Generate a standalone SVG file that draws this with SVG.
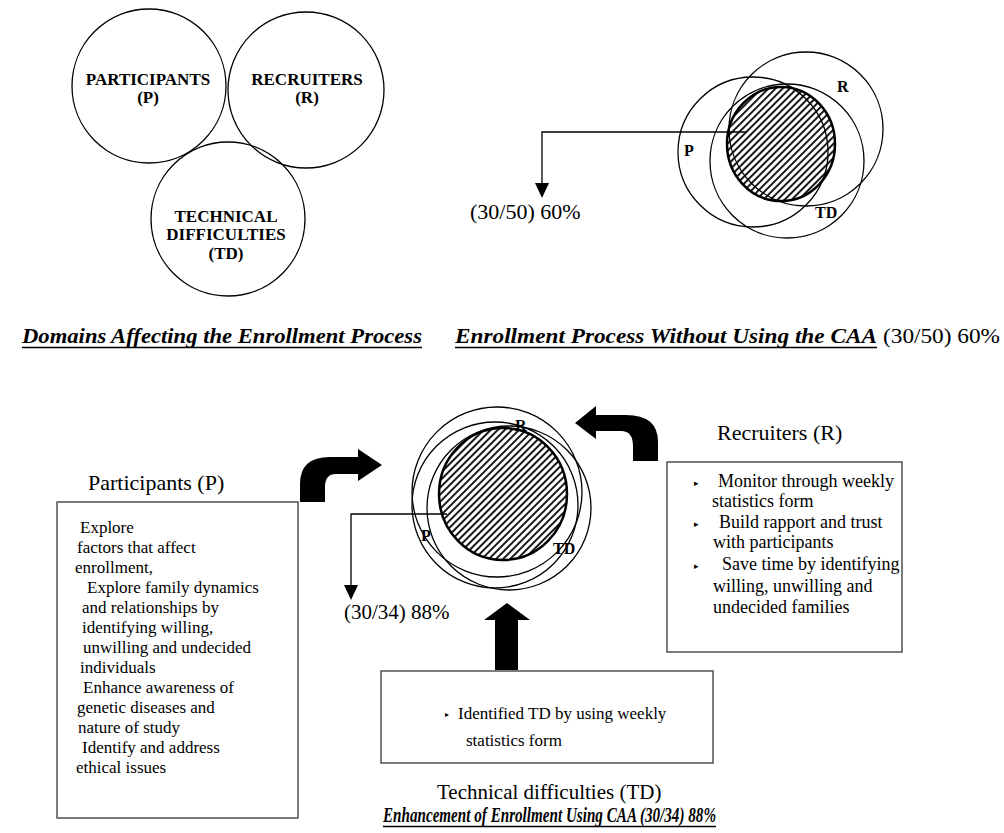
<svg xmlns="http://www.w3.org/2000/svg" width="1004" height="833" viewBox="0 0 1004 833">
<defs>
<pattern id="hatch" width="5" height="5" patternUnits="userSpaceOnUse" patternTransform="rotate(45)">
<line x1="1" y1="0" x2="1" y2="5" stroke="#000" stroke-width="1.8"/>
</pattern>
</defs>
<style>
text{font-family:"Liberation Serif","Times New Roman",serif;fill:#000}
.c{fill:none;stroke:#000;stroke-width:1.3}
.hat{fill:url(#hatch);stroke:#000;stroke-width:2.5}
.b{font-weight:bold}
.cap{font-weight:bold;font-style:italic}
.box{fill:#fff;stroke:#444;stroke-width:1.4}
.bt{font-size:17px}
.rt{font-size:18px}
.ln{fill:none;stroke:#000;stroke-width:1.3}
.blk{fill:#000}
.ul{stroke:#000;stroke-width:1.6}
</style>
<rect width="1004" height="833" fill="#fff"/>

<g id="domains">
<g id="node-participants-circle">
<circle class="c" cx="149" cy="86" r="77"/>
<text class="b" font-size="17" x="148" y="85" text-anchor="middle">PARTICIPANTS</text>
<text class="b" font-size="17" x="148" y="103" text-anchor="middle">(P)</text>
</g>
<g id="node-recruiters-circle">
<circle class="c" cx="306" cy="90" r="78"/>
<text class="b" font-size="17" x="307" y="85" text-anchor="middle">RECRUITERS</text>
<text class="b" font-size="17" x="307" y="103" text-anchor="middle">(R)</text>
</g>
<g id="node-td-circle">
<circle class="c" cx="228" cy="219" r="77"/>
<text class="b" font-size="17" x="226" y="222" text-anchor="middle">TECHNICAL</text>
<text class="b" font-size="17" x="226" y="240" text-anchor="middle">DIFFICULTIES</text>
<text class="b" font-size="17" x="226" y="259" text-anchor="middle">(TD)</text>
</g>
</g>

<g id="venn-without">
<circle class="c" cx="753" cy="152" r="75"/>
<circle class="c" cx="806" cy="129" r="77"/>
<circle class="c" cx="787" cy="161" r="77"/>
<ellipse class="hat" cx="781" cy="144" rx="54" ry="57"/>
<text class="b" font-size="16" x="684" y="156">P</text>
<text class="b" font-size="16" x="837" y="92">R</text>
<text class="b" font-size="16" x="815" y="218">TD</text>
</g>

<g id="venn-with">
<circle class="c" cx="497" cy="492" r="85"/>
<circle class="c" cx="509" cy="508" r="82"/>
<circle class="c" cx="495" cy="505" r="83"/>
<ellipse class="hat" cx="503" cy="494" rx="64" ry="66"/>
<text class="b" font-size="16" x="515" y="431">R</text>
<text class="b" font-size="16" x="421" y="541">P</text>
<text class="b" font-size="16" x="553" y="554">TD</text>
</g>

<g id="connectors">
<polyline class="ln" points="747,132 542,132 542,186"/>
<polygon class="blk" points="535,183 549,183 542,198"/>
<polyline class="ln" points="447,514 351,514 351,588"/>
<polygon class="blk" points="344,585 358,585 351,600"/>
<path class="blk" d="M300,502 L300,484 Q300,457 330,457 L358,457 L358,449 L382,465 L358,481 L358,474 L336,474 Q325,474 325,487 L325,502 Z"/>
<path class="blk" d="M596,406 L575,423 L596,439 L596,431 L621,431 Q633,431 633,446 L633,461 L658,461 L658,442 Q658,415 626,415 L596,415 Z"/>
<path class="blk" d="M507,603 L484,620 L495,620 L495,670 L518,670 L518,620 L530,620 Z"/>
</g>

<g id="label-60">
<text font-size="22" x="470" y="219">(30/50) 60%</text>
</g>
<g id="label-88">
<text font-size="21" x="344" y="619">(30/34) 88%</text>
</g>

<g id="captions">
<text class="cap" font-size="22" x="22" y="343" textLength="400" lengthAdjust="spacingAndGlyphs">Domains Affecting the Enrollment Process</text>
<line class="ul" x1="22" y1="347.5" x2="422" y2="347.5"/>
<text class="cap" font-size="22" x="455" y="343" textLength="422" lengthAdjust="spacingAndGlyphs">Enrollment Process Without Using the CAA</text>
<line class="ul" x1="455" y1="347.5" x2="877" y2="347.5"/>
<text font-size="21" x="883" y="343" textLength="117" lengthAdjust="spacingAndGlyphs">(30/50) 60%</text>
<text class="cap" font-size="21" x="383" y="822" textLength="333" lengthAdjust="spacingAndGlyphs">Enhancement of Enrollment Using CAA (30/34) 88%</text>
<line class="ul" x1="383" y1="826.5" x2="716" y2="826.5"/>
</g>

<g id="node-participants">
<text font-size="22" x="88" y="490">Participants (P)</text>
<rect class="box" x="57" y="502" width="241" height="316"/>
<g class="bt">
<text x="80" y="533">Explore</text>
<text x="77" y="553">factors that affect</text>
<text x="75" y="573">enrollment,</text>
<text x="87" y="593">Explore family dynamics</text>
<text x="82" y="613">and relationships by</text>
<text x="82" y="633">identifying willing,</text>
<text x="83" y="653">unwilling and undecided</text>
<text x="80" y="673">individuals</text>
<text x="83" y="693">Enhance awareness of</text>
<text x="77" y="713">genetic diseases and</text>
<text x="78" y="733">nature of study</text>
<text x="82" y="753">Identify and address</text>
<text x="76" y="773">ethical issues</text>
</g>
</g>

<g id="node-recruiters">
<text font-size="22" x="717" y="440">Recruiters (R)</text>
<rect class="box" x="667" y="462" width="235" height="190"/>
<g class="rt">
<text x="694" y="486" font-size="9">▸</text>
<text x="718" y="487">Monitor through weekly</text>
<text x="712" y="507">statistics form</text>
<text x="694" y="527" font-size="9">▸</text>
<text x="719" y="528">Build rapport and trust</text>
<text x="713" y="548">with participants</text>
<text x="694" y="569" font-size="9">▸</text>
<text x="722" y="570">Save time by identifying</text>
<text x="713" y="592">willing, unwilling and</text>
<text x="713" y="613">undecided families</text>
</g>
</g>

<g id="node-td">
<rect class="box" x="381" y="671" width="332" height="92"/>
<text x="445" y="717" font-size="8">▸</text>
<text font-size="17" x="458" y="719">Identified TD by using weekly</text>
<text font-size="17" x="466" y="746">statistics form</text>
<text font-size="21" x="437" y="799">Technical difficulties (TD)</text>
</g>
</svg>
